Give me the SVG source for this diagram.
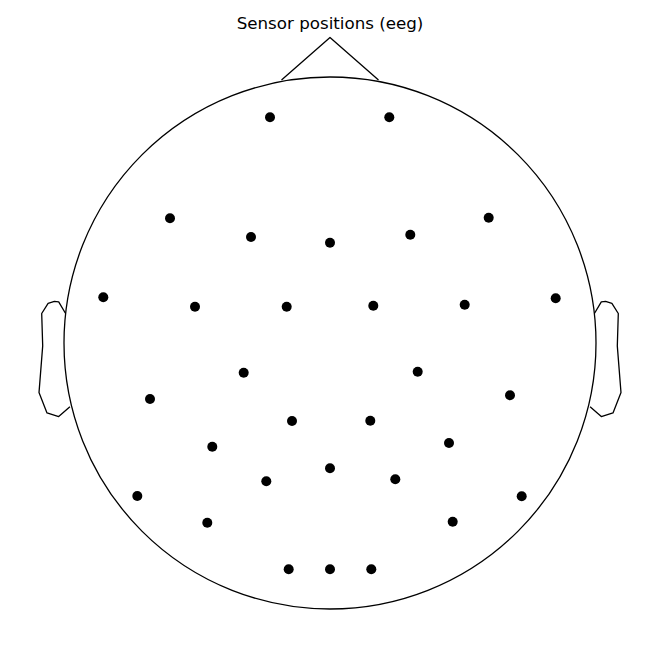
<svg xmlns="http://www.w3.org/2000/svg" width="660" height="648" viewBox="0 0 660 648">
<style>
.outline{fill:none;stroke:#000;stroke-width:1.3;stroke-linejoin:round}
.sensor{fill:#000}
.title{font-family:"DejaVu Sans",sans-serif;font-size:16.7px;fill:#000}
</style>
<rect width="660" height="648" fill="#fff"/>
<text class="title" x="330" y="29" text-anchor="middle">Sensor positions (eeg)</text>
<g id="head">
<circle class="outline" cx="330" cy="343" r="266"/>
<polyline class="outline" points="281.5,80 330,37.5 378.5,80"/>
<polyline class="outline" points="65.6,313.5 58.7,301.8 54.4,301.3 48.1,303.3 41.7,313.5 42.7,345.9 39,392.6 47,412.9 58.7,416.6 69.9,406.8"/>
<polyline class="outline" points="594.4,313.5 601.3,301.8 605.6,301.3 611.9,303.3 618.3,313.5 617.3,345.9 621,392.6 613,412.9 601.3,416.6 590.1,406.8"/>
</g>
<g id="sensors">
<circle class="sensor" cx="270" cy="117.3" r="5"/>
<circle class="sensor" cx="389.3" cy="117.3" r="5"/>
<circle class="sensor" cx="170" cy="218.3" r="5"/>
<circle class="sensor" cx="251" cy="237" r="5"/>
<circle class="sensor" cx="330" cy="242.7" r="5"/>
<circle class="sensor" cx="410.3" cy="234.7" r="5"/>
<circle class="sensor" cx="488.7" cy="217.7" r="5"/>
<circle class="sensor" cx="103.3" cy="297.3" r="5"/>
<circle class="sensor" cx="195" cy="306.7" r="5"/>
<circle class="sensor" cx="286.7" cy="306.7" r="5"/>
<circle class="sensor" cx="373.3" cy="305.7" r="5"/>
<circle class="sensor" cx="464.7" cy="304.7" r="5"/>
<circle class="sensor" cx="555.7" cy="298.3" r="5"/>
<circle class="sensor" cx="243.7" cy="372.7" r="5"/>
<circle class="sensor" cx="417.7" cy="371.7" r="5"/>
<circle class="sensor" cx="150" cy="399" r="5"/>
<circle class="sensor" cx="510" cy="395.3" r="5"/>
<circle class="sensor" cx="292" cy="421" r="5"/>
<circle class="sensor" cx="370.3" cy="420.7" r="5"/>
<circle class="sensor" cx="212.3" cy="446.7" r="5"/>
<circle class="sensor" cx="449" cy="443" r="5"/>
<circle class="sensor" cx="330" cy="468.3" r="5"/>
<circle class="sensor" cx="266.3" cy="481.3" r="5"/>
<circle class="sensor" cx="395.3" cy="479.3" r="5"/>
<circle class="sensor" cx="137.3" cy="496" r="5"/>
<circle class="sensor" cx="521.7" cy="496.3" r="5"/>
<circle class="sensor" cx="207.3" cy="522.7" r="5"/>
<circle class="sensor" cx="452.7" cy="521.7" r="5"/>
<circle class="sensor" cx="288.7" cy="569.3" r="5"/>
<circle class="sensor" cx="330" cy="569.3" r="5"/>
<circle class="sensor" cx="371.3" cy="569.3" r="5"/>
</g>
</svg>
